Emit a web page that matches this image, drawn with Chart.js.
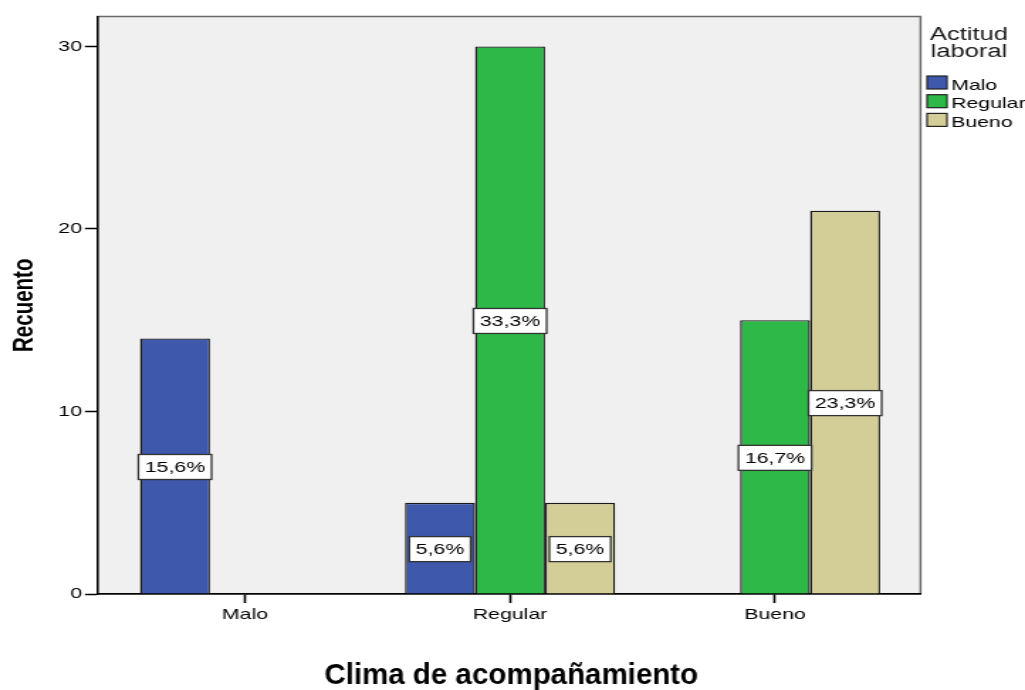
<!DOCTYPE html>
<html lang="es">
<head>
<meta charset="utf-8">
<title>Clima de acompañamiento</title>
<script src="https://cdn.jsdelivr.net/npm/chart.js@4.4.1/dist/chart.umd.min.js"></script>
<style>
  html, body { margin: 0; padding: 0; background: #ffffff; overflow: hidden; }
  /* The chart is laid out narrow and widened horizontally, giving the wide SPSS-style lettering */
  #wrap {
    position: absolute; left: 0; top: 0;
    width: 722px; height: 690px;
    transform: scaleX(1.41967); transform-origin: 0 0;
  }
</style>
</head>
<body>
<div id="wrap"><canvas id="chart"></canvas></div>
<script>
// Categories of "Clima de acompañamiento"
const categories = ['Malo', 'Regular', 'Bueno'];
// Series: "Actitud laboral"
const seriesNames = ['Malo', 'Regular', 'Bueno'];
const countsMalo = [14, 5, 0];
const countsRegular = [0, 30, 15];
const countsBueno = [0, 5, 21];
const yTickValues = [0, 10, 20, 30];

const seriesColors = ['#3E58AC', '#2EB848', '#D3CE97'];
const STRETCH = 1.41967;
const FONT = 'Arial, "Liberation Sans", sans-serif';

const allCounts = [countsMalo, countsRegular, countsBueno];
const total = allCounts.flat().reduce((a, b) => a + b, 0);

const datasets = allCounts.map((counts, d) => ({
  label: seriesNames[d],
  data: counts.map((v, i) => ({ x: i, y: v === 0 ? null : v })),
  backgroundColor: seriesColors[d],
  borderColor: '#1a1a1a',
  borderWidth: 1.4,
  categoryPercentage: 0.793,
  barPercentage: 1.0
}));

// Gray plot panel with its frame
const panelPlugin = {
  id: 'panel',
  beforeDraw(chart) {
    const { ctx, chartArea: a } = chart;
    ctx.save();
    ctx.fillStyle = '#F0F0F0';
    ctx.fillRect(a.left, a.top, a.right - a.left, a.bottom - a.top);
    ctx.strokeStyle = '#6a6a6a';
    ctx.lineWidth = 1.5;
    ctx.strokeRect(a.left, a.top, a.right - a.left, a.bottom - a.top);
    ctx.restore();
  }
};

// Percentage boxes centred in each bar
const percentPlugin = {
  id: 'percentBoxes',
  afterDatasetsDraw(chart) {
    const ctx = chart.ctx;
    ctx.save();
    ctx.font = '15px ' + FONT;
    ctx.textAlign = 'center';
    ctx.textBaseline = 'middle';
    chart.data.datasets.forEach((ds, d) => {
      const meta = chart.getDatasetMeta(d);
      meta.data.forEach((bar, i) => {
        const v = allCounts[d][i];
        if (!v) return;
        const text = (v / total * 100).toFixed(1).replace('.', ',') + '%';
        const w = ctx.measureText(text).width + 9;
        const h = 25;
        const cx = bar.x;
        const cy = (bar.y + bar.base) / 2 + 1;
        ctx.fillStyle = '#ffffff';
        ctx.fillRect(cx - w / 2, cy - h / 2, w, h);
        ctx.strokeStyle = '#333333';
        ctx.lineWidth = 1.3;
        ctx.strokeRect(cx - w / 2, cy - h / 2, w, h);
        ctx.fillStyle = '#000000';
        ctx.fillText(text, cx, cy + 1);
      });
    });
    ctx.restore();
  }
};

// Legend at the right of the panel, plus the axis caption below it
const sideLegendPlugin = {
  id: 'sideLegend',
  afterDraw(chart) {
    const ctx = chart.ctx;
    const a = chart.chartArea;
    ctx.save();
    ctx.fillStyle = '#1a1a1a';
    ctx.textAlign = 'center';
    ctx.textBaseline = 'alphabetic';
    ctx.font = '18px ' + FONT;
    ctx.fillText('Actitud', 682.5, 40);
    ctx.fillText('laboral', 682.5, 57);

    ctx.font = '15px ' + FONT;
    ctx.textAlign = 'left';
    const x0 = 653, sw = 14, sh = 13, top0 = 76, step = 18.7;
    chart.data.datasets.forEach((ds, d) => {
      const y = top0 + d * step;
      ctx.fillStyle = ds.backgroundColor;
      ctx.fillRect(x0, y, sw, sh);
      ctx.strokeStyle = '#222222';
      ctx.lineWidth = 1.2;
      ctx.strokeRect(x0, y, sw, sh);
      ctx.fillStyle = '#000000';
      ctx.fillText(ds.label, 669.9, y + 13.5);
    });

    // Caption of the category axis, drawn at its natural proportions
    ctx.translate((a.left + a.right) / 2 + 1.5, 684);
    ctx.scale(1 / STRETCH, 1);
    ctx.font = 'bold 29.5px ' + FONT;
    ctx.textAlign = 'center';
    ctx.fillStyle = '#000000';
    ctx.fillText('Clima de acompañamiento', 0, 0);
    ctx.restore();
  }
};

new Chart(document.getElementById('chart'), {
  type: 'bar',
  data: { datasets },
  options: {
    responsive: true,
    maintainAspectRatio: false,
    animation: false,
    events: [],
    layout: { padding: { top: 16.5, right: 73.6, bottom: 0, left: 0 } },
    plugins: { legend: { display: false }, tooltip: { enabled: false } },
    scales: {
      x: {
        type: 'linear',
        min: -0.556,
        max: 2.549,
        offset: false,
        grid: { offset: false, drawOnChartArea: false, drawTicks: true, tickLength: 9, tickWidth: 1.6, tickColor: '#000000' },
        border: { display: true, color: '#000000', width: 1.5 },
        ticks: {
          color: '#000000',
          font: { family: FONT, size: 15 },
          padding: 3,
          maxRotation: 0,
          callback: (v) => categories[v]
        },
        afterBuildTicks: (s) => { s.ticks = categories.map((_, i) => ({ value: i })); },
        afterFit: (s) => { s.height = 96; }
      },
      y: {
        min: 0,
        max: 31.64,
        grid: { drawOnChartArea: false, drawTicks: true, tickLength: 9, tickWidth: 1.5, tickColor: '#000000' },
        border: { display: true, color: '#000000', width: 1.4 },
        ticks: {
          color: '#000000',
          font: { family: FONT, size: 15 },
          padding: 2
        },
        afterBuildTicks: (s) => { s.ticks = yTickValues.map(v => ({ value: v })); },
        title: {
          display: true,
          text: 'Recuento',
          color: '#000000',
          font: { family: FONT, size: 20.5, weight: 'bold' },
          padding: { top: 5, bottom: 0 }
        },
        afterFit: (s) => { s.width = 68.8; }
      }
    }
  },
  plugins: [panelPlugin, percentPlugin, sideLegendPlugin]
});
</script>
</body>
</html>
